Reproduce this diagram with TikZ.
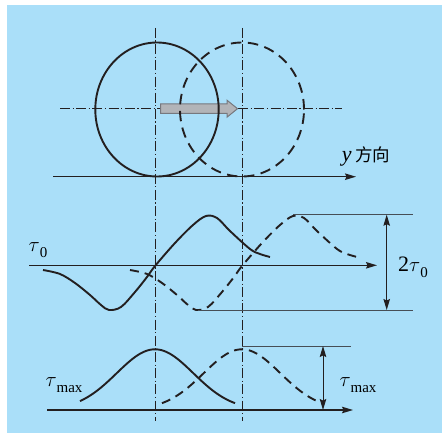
\documentclass[tikz,border=0pt]{standalone}
\usepackage{fontspec}
\setmainfont{Liberation Serif}
\newfontfamily\cjk{Noto Sans CJK SC}
\usetikzlibrary{arrows.meta}
\definecolor{bg}{RGB}{170,223,249}
\definecolor{ink}{RGB}{35,31,32}
\definecolor{thin}{RGB}{70,78,86}
\definecolor{arrfill}{RGB}{178,180,184}
\definecolor{arredge}{RGB}{118,120,126}
\newcommand{\lowsub}[1]{\raisebox{-0.28em}{\fontsize{15}{15}\selectfont #1}}
\newcommand{\mytau}{$\tau$}
\begin{document}
\begin{tikzpicture}[x=1pt,y=-1pt,
  ax/.style={draw=ink,line width=1.1pt,-{Stealth[length=11pt,width=6.5pt,inset=1.5pt]}},
  dbl/.style={draw=ink,line width=1pt,{Stealth[length=11pt,width=6.5pt,inset=1.5pt]}-{Stealth[length=11pt,width=6.5pt,inset=1.5pt]}},
  refl/.style={draw=thin,line width=1pt},
  cline/.style={draw=ink,line width=0.6pt,dash pattern=on 10pt off 2.5pt on 1.2pt off 2.5pt},
  curve/.style={draw=ink,line width=1.9pt},
  dcurve/.style={draw=ink,line width=1.9pt,dash pattern=on 9pt off 6pt},
  lbl/.style={inner sep=0pt,font=\fontsize{22}{22}\selectfont}]
\useasboundingbox (0,0) rectangle (442,433);
\fill[bg] (7,5) rectangle (442,433);

% centre lines
\coordinate (v1t) at (155,28);  \coordinate (v1b) at (155,421);
\coordinate (v2t) at (242,28);  \coordinate (v2b) at (242,421);
\coordinate (hl) at (60,108.7); \coordinate (hr) at (342,108.7);
\draw[cline] (v1t) -- (v1b);
\draw[cline] (v2t) -- (v2b);
\draw[cline] (hl) -- (hr);

% motion arrow
\filldraw[fill=arrfill,draw=arredge,line width=1pt]
  (160.5,104) -- (227,104) -- (227,100.2) -- (237.5,108.7) -- (227,117.2)
  -- (227,113.4) -- (160.5,113.4) -- cycle;

% circles
\draw[curve] (157,109.5) ellipse [x radius=61.7pt, y radius=67pt];
\draw[draw=ink,line width=1.9pt,dash pattern=on 10.5pt off 6.5pt] (242,109.5) ellipse [x radius=62pt, y radius=67pt];

% top axis
\coordinate (a1l) at (53,176.7); \coordinate (a1r) at (356,176.7);
\draw[ax] (a1l) -- (a1r);
\node[lbl] (ydir) at (366,156) {\textit{y}\,{\cjk\fontsize{17.5}{17.5}\selectfont 方向}};

% middle axis
\coordinate (a2l) at (29,265.3); \coordinate (a2r) at (377,265.3);
\draw[ax] (a2l) -- (a2r);
\node[lbl] (t0) at (38,250) {\mytau\lowsub{0}};

\foreach \c/\s in {155/curve, 242/dcurve}{
  \begin{scope}[xshift=\c pt]
  \draw[\s] plot[smooth,tension=0.55] coordinates {
    (-112,270) (-95,274) (-80,283) (-65,295) (-54,305) (-46,310) (-34,307)
    (-20,292) (-8,277) (0,266) (20,243) (38,225) (51,216) (62,218)
    (75,231) (95,249) (105,254) (115,257)};
  \end{scope}
}

% 2 tau0 dimension
\coordinate (m1l) at (293,214.7); \coordinate (m1r) at (413,214.7);
\coordinate (m2l) at (198,310);   \coordinate (m2r) at (413,310);
\draw[refl] (m1l) -- (m1r);
\draw[refl] (m2l) -- (m2r);
\coordinate (d1t) at (386.7,214.7); \coordinate (d1b) at (386.7,310);
\draw[dbl] (d1t) -- (d1b);
\node[lbl] (t20) at (413,267) {2\mytau\lowsub{0}};

% bottom axis
\coordinate (a3l) at (47,410); \coordinate (a3r) at (353,410);
\draw[ax] (a3l) -- (a3r);
\draw[curve] plot[domain=-75:80,samples=90] ({155+\x},{410-60.7*exp(-(\x*\x)/2934)});
\draw[dcurve] plot[domain=-80:75,samples=90] ({242+\x},{410-60.7*exp(-(\x*\x)/2934)});
\coordinate (b1l) at (242,346); \coordinate (b1r) at (351,346);
\draw[refl] (b1l) -- (b1r);
\coordinate (d2t) at (323,346); \coordinate (d2b) at (323,410);
\draw[dbl] (d2t) -- (d2b);
\node[lbl] (tm1) at (64,385) {\mytau\lowsub{max}};
\node[lbl] (tm2) at (358,385) {\mytau\lowsub{max}};
\end{tikzpicture}
\end{document}
